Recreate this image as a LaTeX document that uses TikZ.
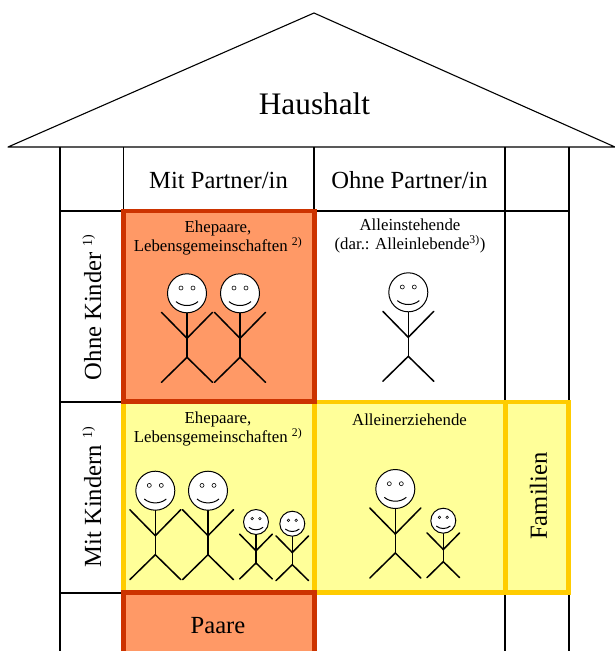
\documentclass[tikz,border=0pt]{standalone}
\usepackage{fontspec}
\setmainfont{Liberation Serif}
\tikzset{
  housel/.style={line width=1.1pt, black, line join=round},
  redbox/.style={line width=4.5pt, draw=cRed, fill=cSalmon, line join=miter},
  yellowbox/.style={line width=4.5pt, draw=cGold, fill=cPale, line join=miter},
  bigtext/.style={font=\fontsize{24.6}{28}\selectfont, inner sep=0pt},
  smalltext/.style={font=\fontsize{16.8}{19.5}\selectfont, inner sep=0pt, align=center},
  stickman/.pic={
    \draw[line width=1.5pt, line cap=round] (-25.5,19) -- (0,45) -- (25.5,19);
    \draw[line width=1.5pt, line cap=round] (-25.5,89) -- (0,64) -- (25.5,89);
    \draw[line width=1.5pt] (0,15) -- (0,64);
    \draw[line width=1pt, fill=white] (0,0) circle [radius=19.5];
    \draw[line width=.6pt, fill=white] (-6,-5.3) circle [radius=2] (6,-5.3) circle [radius=2];
    \draw[line width=1pt] (-11,8.3) .. controls (-5,13.5) and (5,13.5) .. (11,8.3);
  }
}
\definecolor{cRed}{HTML}{CC3300}
\definecolor{cSalmon}{HTML}{FF9966}
\definecolor{cGold}{HTML}{FFCC00}
\definecolor{cPale}{HTML}{FFFF99}
\begin{document}
\begin{tikzpicture}[x=1pt,y=-1pt]
\useasboundingbox (0,0) rectangle (615,651);
% house
\draw[housel] (8,147) -- (314,13) -- (615,147) -- cycle;
\foreach \xpos in {60,123.5,314,505,569}
  \draw[housel] (\xpos,147) -- (\xpos,651);
\foreach \ypos in {211,402,593}
  \draw[housel] (60,\ypos) -- (569,\ypos);
% boxes
\draw[yellowbox] (123.5,402) rectangle (314.3,592.5);
\draw[yellowbox] (314.3,402) rectangle (505.5,592.5);
\draw[yellowbox] (505.5,402) rectangle (568.5,592.5);
\draw[redbox] (123.5,211) rectangle (314.3,401.5);
\draw[redbox] (123.5,592.5) rectangle (314.3,660);
% labels
\node[font=\fontsize{31.3}{34}\selectfont, inner sep=0pt] (haushalt) at (314.5,104) {Haushalt};
\node[bigtext] (mitpartner) at (218.5,180) {Mit Partner/in};
\node[bigtext] (ohnepartner) at (409.5,180) {Ohne Partner/in};
\node[bigtext, rotate=90, anchor=south] (ohnekinder) at (101.5,307) {Ohne Kinder \textsuperscript{\fontsize{14}{14}\selectfont 1)}};
\node[bigtext, rotate=90, anchor=south] (mitkindern) at (101.5,497) {Mit Kindern \textsuperscript{\fontsize{14}{14}\selectfont 1)}};
\node[bigtext] (paare) at (218,626) {Paare};
\node[bigtext, rotate=90] (familien) at (538.5,496) {Familien};
\node[smalltext] (ehe1) at (218,238) {Ehepaare,\\Lebensgemeinschaften \textsuperscript{2)}};
\node[smalltext] (ehe2) at (218,429) {Ehepaare,\\Lebensgemeinschaften \textsuperscript{2)}};
\node[smalltext] (allein) at (410,236) {Alleinstehende\\(dar.: Alleinlebende\textsuperscript{3)})};
\node[smalltext] (erz) at (409.5,420) {Alleinerziehende};
% people
\pic at (187,293.3) {stickman};
\pic at (240,293.3) {stickman};
\pic at (408.3,292.3) {stickman};
\pic at (155.3,490.7) {stickman};
\pic at (208,490.7) {stickman};
\pic[scale=.64] at (256,522) {stickman};
\pic[scale=.64] at (292.3,523.7) {stickman};
\pic at (395.3,489) {stickman};
\pic[scale=.64] at (443.3,520.7) {stickman};
\end{tikzpicture}
\end{document}
